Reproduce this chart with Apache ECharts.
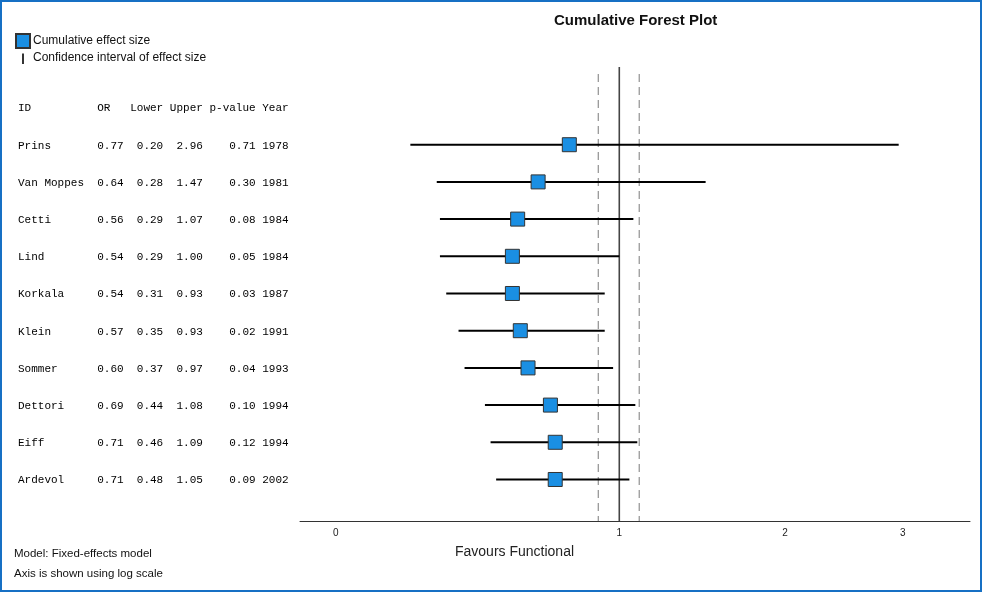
<!DOCTYPE html>
<html>
<head>
<meta charset="utf-8">
<script src="https://cdn.jsdelivr.net/npm/echarts@6/dist/echarts.min.js"></script>
<style>
html,body{margin:0;padding:0;background:#fff;}
#wrap{position:relative;width:983px;height:592px;}
#chart{position:absolute;left:0;top:0;width:983px;height:592px;}
#frame{position:absolute;left:0;top:0;width:982px;height:592px;box-sizing:border-box;border:2px solid #1670c4;pointer-events:none;}
</style>
</head>
<body>
<div id="wrap"><div id="chart"></div><div id="frame"></div></div>
<script>
// ---- data ----
const studies = ['Prins','Van Moppes','Cetti','Lind','Korkala','Klein','Sommer','Dettori','Eiff','Ardevol'];
const orValues = [0.77,0.64,0.56,0.54,0.54,0.57,0.60,0.69,0.71,0.71];
const lowerValues = [0.20,0.28,0.29,0.29,0.31,0.35,0.37,0.44,0.46,0.48];
const upperValues = [2.96,1.47,1.07,1.00,0.93,0.93,0.97,1.08,1.09,1.05];
const pValues = [0.71,0.30,0.08,0.05,0.03,0.02,0.04,0.10,0.12,0.09];
const years = [1978,1981,1984,1984,1987,1991,1993,1994,1994,2002];
const headerLabels = ['ID','OR','Lower','Upper','p-value','Year'];
const xTickLabels = [0,1,2,3];
const nullValue = 1;
const ciBand = [0.9,1.1];

// axis transform: log(1 + x)
const T = v => Math.log(1 + v);

// text table rows (monospace columns)
const pad = (s,n) => (s + ' '.repeat(n)).slice(0,n);
const lpad = (s,n) => (' '.repeat(n) + s).slice(-n);
const headerText = pad(headerLabels[0],12) + pad(headerLabels[1],5) + headerLabels[2] + ' ' + headerLabels[3] + ' ' + headerLabels[4] + ' ' + headerLabels[5];
const tableData = [[18, -1, headerText]];
studies.forEach((s,i) => {
  const row = pad(s,12) + orValues[i].toFixed(2) + lpad(lowerValues[i].toFixed(2),6) + lpad(upperValues[i].toFixed(2),6) + lpad(pValues[i].toFixed(2),8) + ' ' + years[i];
  tableData.push([18, i, row]);
});

const pointData = studies.map((s,i) => [T(orValues[i]), i]);
const ciData = studies.map((s,i) => [T(lowerValues[i]), T(upperValues[i]), i]);
const refData = [[T(nullValue), -2.089, 10.116, 0], [T(ciBand[0]), -1.9, 10.116, 1], [T(ciBand[1]), -1.9, 10.116, 1]];

const yMin = -2.089, yMax = 10.116;

const chart = echarts.init(document.getElementById('chart'), null, {renderer:'canvas'});
chart.setOption({
  animation: false,
  backgroundColor: '#fff',
  title: [
    {text:'Cumulative Forest Plot', left: 554, top: 13, padding:0, textStyle:{fontFamily:'Liberation Sans', fontSize:15, fontWeight:'bold', color:'#111'}},
    {text:'Favours Functional', left: 455, top: 545, padding:0, textStyle:{fontFamily:'Liberation Sans', fontSize:14, fontWeight:'normal', color:'#222'}},
    {text:'Model: Fixed-effects model\nAxis is shown using log scale', left: 14, top: 544, padding:0, textStyle:{fontFamily:'Liberation Sans', fontSize:11.5, fontWeight:'normal', color:'#111', lineHeight:20}}
  ],
  legend: {
    orient:'vertical', left: 15, top: 33, padding:0, itemWidth: 14, itemHeight: 14, itemGap: 2,
    textStyle:{fontFamily:'Liberation Sans', fontSize:12, color:'#111', padding:[0,0,0,-2]},
    selectedMode:false,
    data:[
      {name:'Cumulative effect size', icon:'rect'},
      {name:'Confidence interval of effect size', icon:'path://M0,0 M14,14 M6.2,2.5 L7.8,2.5 L7.8,13 L6.2,13 Z', itemStyle:{color:'#000', borderWidth:0}}
    ]
  },
  grid: [
    {left:300, width:670, top:67, height:454},
    {left:0, width:300, top:67, height:454}
  ],
  xAxis: [
    {type:'value', gridIndex:0, min:-0.0875, max:1.5506,
      axisLine:{show:true, onZero:false, lineStyle:{color:'#333', width:1}},
      axisTick:{show:false}, splitLine:{show:false},
      axisLabel:{show:true, customValues: xTickLabels.map(T), margin:7, fontFamily:'Liberation Sans', fontSize:10, color:'#222',
        formatter: v => String(Math.round(Math.exp(v) - 1))}
    },
    {type:'value', gridIndex:1, min:0, max:300, show:false}
  ],
  yAxis: [
    {type:'value', gridIndex:0, min:yMin, max:yMax, inverse:true, show:false},
    {type:'value', gridIndex:1, min:yMin, max:yMax, inverse:true, show:false}
  ],
  series: [
    {
      name:'refs', type:'custom', xAxisIndex:0, yAxisIndex:0, z:1, silent:true,
      data: refData, encode:{x:0, y:[1,2]},
      renderItem: (params, api) => {
        const a = api.coord([api.value(0), api.value(1)]);
        const b = api.coord([api.value(0), api.value(2)]);
        const dashed = api.value(3) === 1;
        return {type:'line', shape:{x1:a[0], y1:a[1], x2:b[0], y2:b[1]},
          style: dashed ? {stroke:'#999', lineWidth:1.3, lineDash:[8,5]} : {stroke:'#444', lineWidth:1.6}};
      }
    },
    {
      name:'Confidence interval of effect size', type:'custom', xAxisIndex:0, yAxisIndex:0, z:2, silent:true,
      itemStyle:{color:'#000'},
      data: ciData, encode:{x:[0,1], y:2},
      renderItem: (params, api) => {
        const a = api.coord([api.value(0), api.value(2)]);
        const b = api.coord([api.value(1), api.value(2)]);
        return {type:'line', shape:{x1:a[0], y1:a[1], x2:b[0], y2:b[1]}, style:{stroke:'#000', lineWidth:2}};
      }
    },
    {
      name:'Cumulative effect size', type:'scatter', xAxisIndex:0, yAxisIndex:0, z:3, silent:true,
      symbol:'rect', symbolSize:[14,14],
      itemStyle:{color:'#1a8fe3', borderColor:'#333', borderWidth:1, opacity:1},
      data: pointData
    },
    {
      name:'table', type:'custom', xAxisIndex:1, yAxisIndex:1, z:3, silent:true,
      data: tableData, encode:{x:0, y:1},
      renderItem: (params, api) => {
        const p = api.coord([api.value(0), api.value(1)]);
        return {type:'text', x:p[0], y:p[1] + 1,
          style:{text: tableData[params.dataIndex][2], fontFamily:'Liberation Mono', fontSize:11, fill:'#000', align:'left', verticalAlign:'middle'}};
      }
    }
  ]
});
</script>
</body>
</html>
